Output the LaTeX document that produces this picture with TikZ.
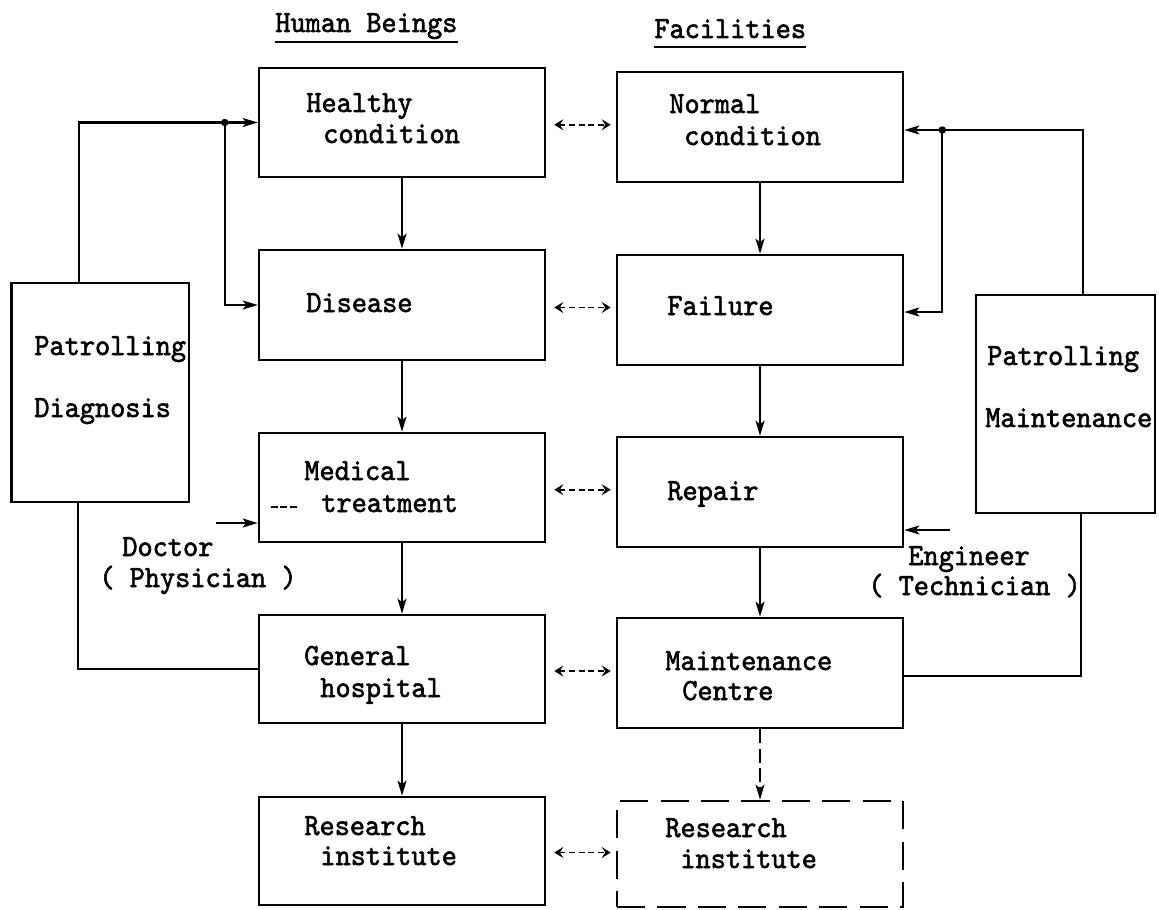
\documentclass[tikz,border=0pt]{standalone}
\usepackage{fontspec}
\newfontfamily\typewriter[FakeStretch=0.94,FakeBold=1.8]{lmmono10-regular.otf}
\usetikzlibrary{arrows.meta,calc}
\begin{document}
\begin{tikzpicture}[x=0.02cm,y=-0.02cm,
  box/.style={draw, line width=1.5pt, inner sep=0pt},
  colbox/.style={box, minimum width=5.72cm},
  line/.style={line width=1.2pt},
  arrow/.style={line, -{Stealth[length=0.3cm,width=0.18cm,inset=0.07cm]}},
  darrow/.style={line width=1.1pt, dash pattern=on 3.5pt off 2pt,
    {Stealth[length=0.18cm,width=0.22cm,inset=0.07cm]}-{Stealth[length=0.18cm,width=0.22cm,inset=0.07cm]}},
  txt/.style={font=\typewriter\fontsize{17.5}{20}\selectfont, inner sep=0pt, anchor=base west},
  dot/.style={circle, fill, inner sep=0pt, minimum size=0.15cm},
]
\path[fill=white, use as bounding box] (0,0) rectangle (1159,909);

% column headings
\node[txt] (hb) at (275,32) {Human Beings};
\node[txt] (fc) at (654,38) {Facilities};
\draw[line width=1.1pt] ($(hb.base west)+(0,10)$) -- ($(hb.base east)+(0,10)$);
\draw[line width=1.1pt] ($(fc.base west)+(0,9)$) -- ($(fc.base east)+(0,9)$);

% human beings column
\node[colbox, minimum height=2.18cm] (hc)  at (402,122.5) {};
\node[colbox, minimum height=2.20cm] (di)  at (402,305) {};
\node[colbox, minimum height=2.18cm] (mt)  at (402,487.5) {};
\node[colbox, minimum height=2.16cm] (gh)  at (402,669) {};
\node[colbox, minimum height=2.16cm] (ri1) at (402,851) {};

% facilities column
\node[colbox, minimum height=2.20cm] (nc)  at (760,127) {};
\node[colbox, minimum height=2.20cm] (fa)  at (760,310) {};
\node[colbox, minimum height=2.20cm] (re)  at (760,492) {};
\node[colbox, minimum height=2.20cm] (mc)  at (760,673) {};
\node[colbox, minimum height=2.12cm, dash pattern=on 16pt off 7pt] (ri2) at (760,854) {};

% side boxes
\node[box, minimum width=3.55cm, minimum height=4.38cm] (pd) at (100.25,392.5) {};
\node[box, minimum width=3.58cm, minimum height=4.36cm] (pm) at (1065.5,404) {};

% box texts
\node[txt] (t-hc1) at (306,112) {Healthy};
\node[txt] (t-hc2) at (323,143) {condition};
\node[txt] (t-di)  at (306,312) {Disease};
\node[txt] (t-mt1) at (304,480) {Medical};
\node[txt] (t-mt2) at (321,512) {treatment};
\node[txt] (t-gh1) at (304,665) {General};
\node[txt] (t-gh2) at (320,697) {hospital};
\node[txt] (t-ri1a) at (304,835) {Research};
\node[txt] (t-ri1b) at (320,865) {institute};

\node[txt] (t-nc1) at (669,113) {Normal};
\node[txt] (t-nc2) at (684,145) {condition};
\node[txt] (t-fa)  at (667,315) {Failure};
\node[txt] (t-re)  at (667,500) {Repair};
\node[txt] (t-mc1) at (665,670) {Maintenance};
\node[txt] (t-mc2) at (682,700) {Centre};
\node[txt] (t-ri2a) at (665,837) {Research};
\node[txt] (t-ri2b) at (680,868) {institute};

\node[txt] (t-pd1) at (34,355) {Patrolling};
\node[txt] (t-pd2) at (34,417) {Diagnosis};
\node[txt] (t-pm1) at (987,365) {Patrolling};
\node[txt] (t-pm2) at (985,427) {Maintenance};

\node[txt] (t-doc1) at (122,556) {Doctor};
\node[txt] (t-doc2) at (99,587) {( Physician )};
\node[txt] (t-eng1) at (908,565) {Engineer};
\node[txt] (t-eng2) at (868,595) {( Technician )};

% short rule before "treatment"
\draw[line width=0.7pt, dash pattern=on 4pt off 1.5pt] ($(mt.west)+(13,19.5)$) -- ($(mt.west)+(39,19.5)$);

% main flow
\draw[arrow] (hc) -- (di);
\draw[arrow] (di) -- (mt);
\draw[arrow] (mt) -- (gh);
\draw[arrow] (gh) -- (ri1);
\draw[arrow] (nc) -- (fa);
\draw[arrow] (fa) -- (re);
\draw[arrow] (re) -- (mc);
\draw[arrow, dash pattern=on 8pt off 3pt] (mc) -- (ri2);

% correspondences between the columns
\foreach \a/\b in {hc/nc, di/fa, mt/re, gh/mc, ri1/ri2} {
  \coordinate (m) at ($(\a.east)!.5!(\b.west)$);
  \draw[darrow] ($(m -| \a.east)+(8,0)$) -- ($(m -| \b.west)+(-5,0)$);
}

% patrolling / diagnosis loop
\coordinate (lj) at ($(hc.west)+(-33,0)$);
\draw[arrow] ($(pd.north west)+(69,0)$) |- (hc.west);
\draw[arrow] (lj) |- (di.west);
\node[dot] (ljd) at (lj) {};
\draw[line] ($(pd.south west)+(68,0)$) |- (gh.west);

% patrolling / maintenance loop
\coordinate (rj) at ($(nc.east)+(38,3)$);
\draw[arrow] ($(pm.north west)+(108,0)$) |- ($(nc.east)+(0,3)$);
\draw[arrow] (rj) |- ($(fa.east)+(0,2)$);
\node[dot] (rjd) at (rj) {};
\draw[line] ($(pm.south west)+(106,0)$) |- ($(mc.east)+(0,3)$);

% personnel inputs
\coordinate (doc) at (216,523);
\draw[arrow] (doc) -- (doc -| mt.west);
\coordinate (eng) at (950,530);
\draw[arrow] (eng) -- (eng -| re.east);
\end{tikzpicture}
\end{document}
